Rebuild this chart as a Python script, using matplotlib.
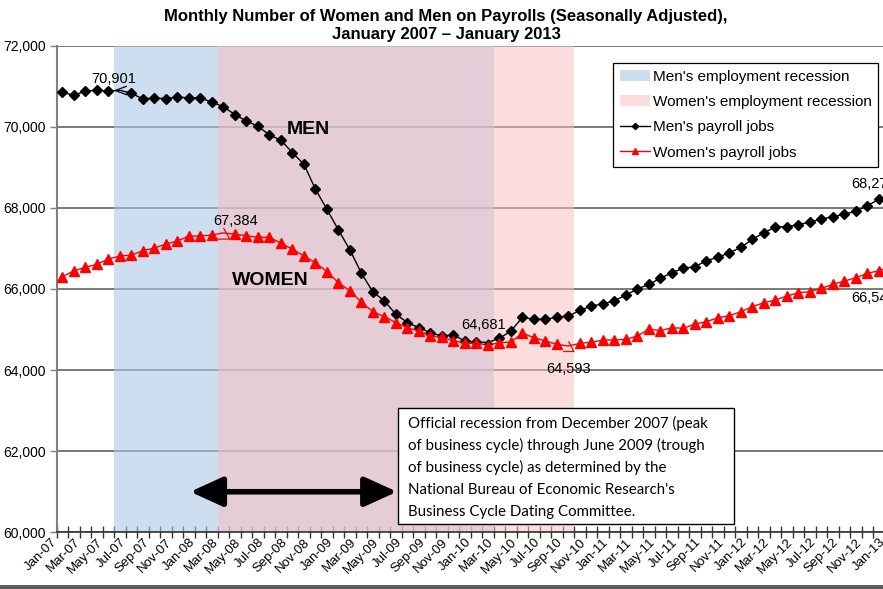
import numpy as np
import pandas as pd
import matplotlib
matplotlib.use('Agg')
import matplotlib.pyplot as plt
from matplotlib.path import Path
from matplotlib.patches import Rectangle

# Monthly payroll jobs (thousands), Jan 2007 - Jan 2013
months = pd.date_range('2007-01-01', '2013-01-01', freq='MS').strftime('%b-%y').tolist()

men = [70851, 70777, 70883, 70900, 70885, 70901, 70826, 70686, 70710, 70694,
       70735, 70710, 70718, 70604, 70496, 70298, 70143, 70012, 69798, 69667,
       69361, 69075, 68459, 67966, 67455, 66962, 66387, 65926, 65704, 65376,
       65169, 65046, 64922, 64841, 64870, 64712, 64695, 64681, 64784, 64964,
       65302, 65253, 65253, 65302, 65334, 65470, 65585, 65630, 65712, 65852,
       66000, 66116, 66264, 66402, 66511, 66550, 66698, 66782, 66895, 67028,
       67226, 67389, 67529, 67537, 67586, 67652, 67726, 67783, 67842, 67924,
       68054, 68212, 68279]

women = [66303, 66451, 66535, 66609, 66740, 66814, 66838, 66945, 67011, 67110,
         67184, 67307, 67307, 67332, 67384, 67349, 67315, 67275, 67275, 67127,
         66983, 66814, 66649, 66427, 66155, 65951, 65672, 65440, 65317, 65169,
         65046, 64964, 64848, 64809, 64725, 64661, 64661, 64619, 64676, 64690,
         64908, 64799, 64718, 64636, 64593, 64661, 64686, 64742, 64742, 64760,
         64841, 65014, 64972, 65046, 65031, 65137, 65194, 65292, 65342, 65440,
         65564, 65662, 65729, 65827, 65909, 65933, 66017, 66116, 66197, 66279,
         66387, 66451, 66545]

# recession spans as month indices (first, last)
men_recession = (5, 37)
women_recession = (14, 44)
official_recession = ('Dec-07', 'Jun-09')

# labelled points (month index)
men_labels = [5, 37, 72]
women_labels = [14, 44, 72]

box_lines = ["Official recession from December 2007 (peak",
             "of business cycle) through June 2009 (trough",
             "of business cycle) as determined by the",
             "National Bureau of Economic Research's",
             "Business Cycle Dating Committee."]

plt.rcParams['font.family'] = ['Liberation Sans', 'DejaVu Sans']

W, H = 883, 589
fig = plt.figure(figsize=(W / 100, H / 100), dpi=100)
ax = fig.add_axes([56.7 / W, 1 - 532.3 / H, 839.5 / W, 486.6 / H])

n = len(months)
x = np.arange(n) + 0.5

# shading
ax.axvspan(men_recession[0], men_recession[1] + 1, color='#acc8e6', alpha=0.6, lw=0, zorder=1,
           label="Men's employment recession")
ax.axvspan(women_recession[0], women_recession[1] + 1, color='#fbbfbf', alpha=0.52, lw=0, zorder=1,
           label="Women's employment recession")

# callout-ish shapes used in place of the markers at labelled points
chev = Path([(1, 0.7), (-0.8, 0), (1, -0.7)], [Path.MOVETO, Path.LINETO, Path.LINETO])
caret = Path([(-1, -0.6), (0, 0.6), (1, -0.6)], [Path.MOVETO, Path.LINETO, Path.LINETO])
hook = Path([(-1, -0.9), (1, -0.9), (0.0, 0.9)], [Path.MOVETO, Path.LINETO, Path.LINETO])

men_plain = [i for i in range(n) if i not in men_labels[:2]]
women_plain = [i for i in range(n) if i not in women_labels[:2]]

ax.plot(x, men, color='black', lw=1, marker='D', ms=5.3, markevery=men_plain, zorder=3,
        label="Men's payroll jobs")
ax.plot(x, women, color='#ff0000', lw=1, marker='^', ms=7, markevery=women_plain, zorder=3,
        label="Women's payroll jobs")

ax.plot(x[men_labels[0]], men[men_labels[0]], marker=chev, ms=9, mfc='none', mec='black', mew=0.9, ls='none', zorder=4)
ax.plot(x[men_labels[1]], men[men_labels[1]], marker=caret, ms=6, mfc='none', mec='black', mew=0.9, ls='none', zorder=4)
ax.plot(x[women_labels[0]], women[women_labels[0]], marker=hook, ms=9, mfc='none', mec='#ff0000', mew=0.9, ls='none', zorder=4)
ax.plot(x[women_labels[1]], women[women_labels[1]], marker=hook, ms=8, mfc='none', mec='#ff0000', mew=0.9, ls='none', zorder=4)

# data labels
lab_style = [((-6, 11.5), 'center'), ((-4, 17.5), 'center'), ((5, 13), 'right')]
for i, (off, ha) in zip(men_labels, lab_style):
    ax.annotate('{:,}'.format(men[i]), (x[i], men[i]), xytext=off, textcoords='offset pixels',
                ha=ha, va='center', fontsize=10.5, zorder=5, annotation_clip=False)
lab_style = [((12, 12), 'center'), ((0, -23), 'center'), ((5, -31), 'right')]
for i, (off, ha) in zip(women_labels, lab_style):
    ax.annotate('{:,}'.format(women[i]), (x[i], women[i]), xytext=off, textcoords='offset pixels',
                ha=ha, va='center', fontsize=10.5, zorder=5, annotation_clip=False)

ax.text(21.9, 69940, 'MEN', fontsize=14, fontweight='bold', ha='center', va='center', zorder=5)
ax.text(18.6, 66220, 'WOMEN', fontsize=14, fontweight='bold', ha='center', va='center', zorder=5)

# official recession arrow
a0 = months.index(official_recession[0]) + 0.6
a1 = months.index(official_recession[1]) + 0.6
ax.annotate('', xy=(a0, 61000), xytext=(a1, 61000),
            arrowprops=dict(arrowstyle='<|-|>,head_length=0.55,head_width=0.25', lw=4,
                            color='black', mutation_scale=36, shrinkA=0, shrinkB=0),
            zorder=5)

# axes styling
ax.set_xlim(0, n)
ax.set_ylim(60000, 72000)
ax.set_yticks(np.arange(60000, 72001, 2000))
ax.yaxis.set_major_formatter(matplotlib.ticker.StrMethodFormatter('{x:,.0f}'))
ax.set_axisbelow(True)
ax.grid(axis='y', color='#555555', lw=1.1)
ax.set_xticks(np.arange(0, n + 1))
ax.set_xticklabels([])
ax.tick_params(axis='x', direction='inout', length=8, width=1, color='#333333')
ax.tick_params(axis='y', direction='out', length=5, width=1, color='#808080', labelsize=10, pad=3)
for s in ['top', 'right']:
    ax.spines[s].set_visible(False)
ax.spines['left'].set_color('#808080')
ax.spines['left'].set_linewidth(1.5)
ax.spines['bottom'].set_color('#333333')
ax.spines['bottom'].set_linewidth(1.2)

for i in range(0, n, 2):
    ax.annotate(months[i], (i - 0.15, 0), xycoords=('data', 'axes fraction'),
                xytext=(0, -8), textcoords='offset pixels', rotation=45,
                rotation_mode='anchor', ha='right', va='center', fontsize=9.5,
                annotation_clip=False)

leg = ax.legend(loc='upper left', bbox_to_anchor=(613 / W, 1 - 63 / H), bbox_transform=fig.transFigure,
                fontsize=11, frameon=True, fancybox=False, edgecolor='black', framealpha=1,
                borderaxespad=0, borderpad=0.45, labelspacing=0.74, handlelength=2.0,
                handletextpad=0.15, markerscale=0.6)
leg.get_frame().set_linewidth(0.9)
leg.set_zorder(6)

# text box
fig.add_artist(Rectangle((398 / W, 1 - 524 / H), 336 / W, 116 / H, transform=fig.transFigure,
                         fc='white', ec='black', lw=1, zorder=7))
for k, line in enumerate(box_lines):
    fig.text(408 / W, 1 - (423 + k * 22.2) / H, line, fontsize=10.8, family=['Lato', 'DejaVu Sans'],
             va='center', ha='left', zorder=8)

fig.text(446 / W, 1 - 17 / H, 'Monthly Number of Women and Men on Payrolls (Seasonally Adjusted),',
         fontsize=12, fontweight='bold', ha='center', va='center')
fig.text(446 / W, 1 - 35 / H, 'January 2007 \u2013 January 2013',
         fontsize=12, fontweight='bold', ha='center', va='center')

fig.add_artist(Rectangle((0, 0), 1, 4 / H, transform=fig.transFigure, fc='#5c5c5c', ec='none'))

fig.savefig('out.png', dpi=100)
